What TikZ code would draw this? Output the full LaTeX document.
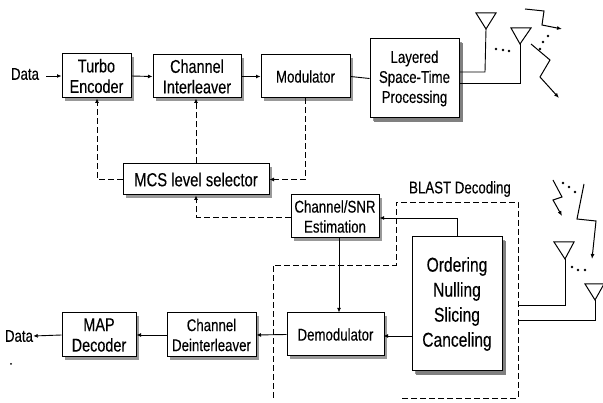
\documentclass[tikz,border=0pt]{standalone}
\usepackage{fontspec}
\setmainfont[FakeStretch=0.78,FakeBold=0.2]{Liberation Sans}
\usetikzlibrary{arrows.meta,shadows,calc}
\tikzset{
  blk/.style={draw=black,fill=white,line width=1pt,align=center,inner sep=0pt,font=\fontsize{17}{20}\selectfont,
    general shadow={shadow xshift=3pt,shadow yshift=-3pt,fill=black!40}},
  bigblk/.style={blk,general shadow={shadow xshift=4pt,shadow yshift=-4pt,fill=black!50}},
  bigtxt/.style={font=\fontsize{18.5}{20.5}\selectfont},
  conn/.style={line width=0.9pt,-{Latex[length=4.5pt,width=4pt]}},
  plain/.style={line width=0.9pt},
  dashln/.style={line width=0.8pt,dash pattern=on 6pt off 3pt},
  dasharrow/.style={dashln,-{Latex[length=4.5pt,width=4pt]}},
  ant/.style={line width=1pt,line join=miter},
  bolt/.style={line width=1pt,-{Latex[length=5pt,width=4pt]}},
  lbl/.style={inner sep=0pt,font=\fontsize{17}{20}\selectfont},
  pt/.style={circle,fill=black,inner sep=0pt,minimum size=2.8pt},
}
\begin{document}
\begin{tikzpicture}[x=1pt,y=-1pt]
\useasboundingbox (0,0) rectangle (603,403);
% blocks
\node[blk,bigtxt,minimum width=69pt,minimum height=44pt] (turbo) at (96.5,76) {Turbo\\Encoder};
\node[blk,bigtxt,minimum width=88pt,minimum height=43pt] (inter) at (197,76.5) {Channel\\Interleaver};
\node[blk,minimum width=89pt,minimum height=43pt] (mod) at (305.5,76.5) {Modulator};
\node[bigblk,minimum width=89pt,minimum height=79pt] (lay) at (414.5,78.5) {Layered\\Space-Time\\Processing};
\node[blk,minimum width=146pt,minimum height=31pt,font=\fontsize{19}{20}\selectfont] (mcs) at (196,179.5) {MCS level selector};
\node[blk,minimum width=88pt,minimum height=43pt] (est) at (335,216.5) {Channel/SNR\\Estimation};
\node[bigblk,minimum width=90pt,minimum height=134pt,font=\fontsize{20}{25}\selectfont] (ord) at (457,304) {Ordering\\Nulling\\Slicing\\Canceling};
\node[blk,minimum width=97pt,minimum height=43pt] (dem) at (335.5,334.5) {Demodulator};
\node[blk,minimum width=89pt,minimum height=44pt] (dei) at (211.5,335) {Channel\\Deinterleaver};
\node[blk,bigtxt,minimum width=74pt,minimum height=44pt] (map) at (99,335) {MAP\\Decoder};
% labels
\node[lbl] (din) at (25,74) {Data};
\node[lbl] (dout) at (19,336) {Data};
\node[lbl] (blast) at (460,189) {BLAST Decoding};
\node[pt,minimum size=2pt] (speck) at (11,364) {};
% forward chain
\draw[conn] ($(din.east)+(7,2)$) -- (turbo.west);
\draw[conn] (turbo.east) -- (inter.west);
\draw[conn] (inter.east) -- (mod.west);
\draw[plain] (mod.east) -- (lay.west);
\draw[conn] (map.west) -- (dout.east);
\draw[conn] (dei.west) -- (map.east);
\draw[conn] (dem.west) -- (dei.east);
\draw[conn] ($(ord.west)+(0,32)$) -- ($(ord.west)+(-28,32)$);
\draw[conn] ($(est.south)+(4,0)$) -- ($(dem.north)+(3.5,0)$);
\coordinate (fb) at (457,218);
\draw[conn] (ord.north) -- (fb) -- (est.east |- fb);
% control
\coordinate (c1) at (97,179.5);
\draw[dasharrow] (mcs.west) -- (c1) -- (c1 |- turbo.south);
\draw[dasharrow] (mcs.north) -- (mcs.north |- inter.south);
\draw[dasharrow] (mod.south) -- (mod.south |- mcs.east) -- (mcs.east);
\coordinate (fbm) at (196,217);
\draw[dasharrow] (est.west |- fbm) -- (fbm) -- (mcs.south);
% BLAST box
\coordinate (b1) at (273,398);
\coordinate (b2) at (273,265);
\coordinate (b3) at (396,265);
\coordinate (b4) at (396,202);
\coordinate (b5) at (518,202);
\coordinate (b6) at (518,398);
\coordinate (b7) at (400,398);
\draw[dashln] (b1) -- (b2) -- (b3) -- (b4) -- (b5) -- (b6) -- (b7);
% TX antennas
\coordinate (t1) at (486,29);
\coordinate (t2) at (520,44);
\draw[ant] (t1) -- (476,13) -- (496,13) -- cycle;
\draw[ant] (t2) -- (511,28) -- (531,28) -- cycle;
\coordinate (ty1) at (0,72);
\coordinate (ty2) at (0,83);
\draw[plain] (lay.east |- ty1) -- (485,72) -- (t1);
\draw[plain] (lay.east |- ty2) -- (520,83) -- (t2);
\node[pt] (td1) at (496,49) {}; \node[pt] (td2) at (503,50) {}; \node[pt] (td3) at (509,51) {};
\draw[bolt] (525,9) -- (544,11) -- (542,25) -- (562,29);
\draw[bolt] (531,44) -- (550,60) -- (540,77) -- (559,98);
\node[pt] (l1) at (540,49) {}; \node[pt] (l2) at (543,42) {}; \node[pt] (l3) at (548,36) {};
% RX antennas
\coordinate (r1) at (565,259);
\coordinate (r2) at (595,300);
\draw[ant] (r1) -- (554,242) -- (574,242) -- cycle;
\draw[ant] (r2) -- (585,284) -- (604,284) -- cycle;
\coordinate (o1) at (518,305);
\coordinate (o2) at (518,320);
\draw[plain] (o1) -- (565,305) -- (r1);
\draw[plain] (o2) -- (595,320) -- (r2);
\node[pt] (rd1) at (572,267) {}; \node[pt] (rd2) at (578,270) {}; \node[pt] (rd3) at (585,270) {};
\draw[bolt] (553,180) -- (562,197) -- (553,200) -- (562,216);
\draw[bolt] (584,184) -- (577,219) -- (596,221) -- (592,259);
\node[pt] (m1) at (563,183) {}; \node[pt] (m2) at (569,187) {}; \node[pt] (m3) at (575,192) {};
\end{tikzpicture}
\end{document}
